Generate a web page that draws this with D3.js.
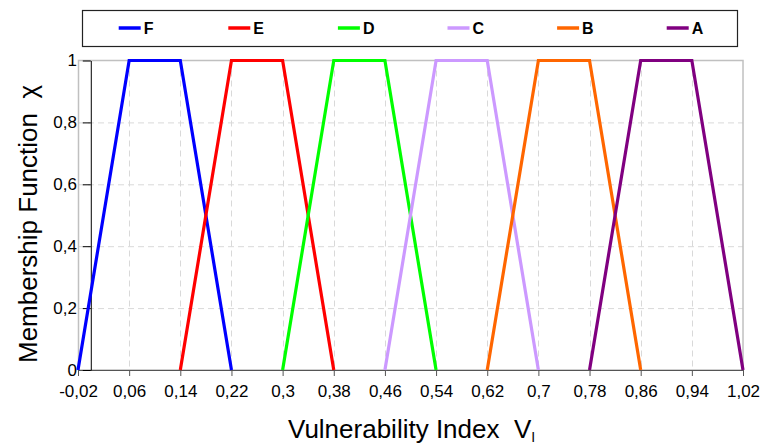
<!DOCTYPE html>
<html>
<head>
<meta charset="utf-8">
<script src="https://cdn.jsdelivr.net/npm/d3@7"></script>
<style>
  body { margin: 0; background: #fff; }
  svg { display: block; font-family: "Liberation Sans", Arial, sans-serif; }
  .title { white-space: pre; }
</style>
</head>
<body>
<div class="plot"></div>
<script>
"use strict";

// classes and their trapezoid corners (x at chi = 0, 1, 1, 0)
const classes = ["F", "E", "D", "C", "B", "A"];
const colors = ["#0000FF", "#FF0000", "#00FF00", "#CC99FF", "#FF6600", "#800080"];
const cornersX = [
    [-0.02, 0.06, 0.14, 0.22],
    [0.14, 0.22, 0.30, 0.38],
    [0.30, 0.38, 0.46, 0.54],
    [0.46, 0.54, 0.62, 0.70],
    [0.62, 0.70, 0.78, 0.86],
    [0.78, 0.86, 0.94, 1.02]
];
const cornersY = [0, 1, 1, 0];
const xTicks = [-0.02, 0.06, 0.14, 0.22, 0.30, 0.38, 0.46, 0.54, 0.62, 0.70, 0.78, 0.86, 0.94, 1.02];
const yTicks = [0, 0.2, 0.4, 0.6, 0.8, 1];

const W = 761, H = 446;
const pLeft = 78, pRight = 743, pTop = 60.5, pBottom = 370;

const fmt = v => String(+v.toFixed(2)).replace(".", ",");

var svg = d3.select(".plot")
    .append("svg")
    .attr("width", W)
    .attr("height", H);

var x = d3.scaleLinear().domain([-0.02, 1.02]).range([pLeft, pRight]);
var y = d3.scaleLinear().domain([0, 1]).range([pBottom, pTop]);

// grid
svg.append("g")
    .selectAll("line")
    .data(yTicks.filter(d => d > 0 && d < 1))
    .enter()
    .append("line")
    .attr("x1", pLeft).attr("x2", pRight)
    .attr("y1", d => y(d) + 0.5).attr("y2", d => y(d) + 0.5)
    .attr("stroke", "#d9d9d9")
    .attr("stroke-dasharray", "6,4");

svg.append("g")
    .selectAll("line")
    .data(xTicks.slice(1, -1))
    .enter()
    .append("line")
    .attr("x1", d => Math.round(x(d)) + 0.5).attr("x2", d => Math.round(x(d)) + 0.5)
    .attr("y1", pTop).attr("y2", pBottom)
    .attr("stroke", "#d9d9d9")
    .attr("stroke-dasharray", "6,4");

// plot area border
svg.append("rect")
    .attr("x", pLeft + 0.5)
    .attr("y", pTop)
    .attr("width", pRight - pLeft - 0.5)
    .attr("height", pBottom - pTop)
    .attr("fill", "none")
    .attr("stroke", "#c0c0c0")
    .attr("stroke-width", 1.5);

// x axis
var xAxis = svg.append("g")
    .attr("transform", `translate(0,${pBottom})`)
    .call(d3.axisBottom(x).tickValues(xTicks).tickFormat(fmt).tickSize(6).tickSizeOuter(0).tickPadding(9));
xAxis.select(".domain").attr("stroke", "#555");
xAxis.selectAll(".tick line").attr("stroke", "#555");
xAxis.selectAll("text").attr("font-size", 17).attr("fill", "#000")
    .attr("font-family", "'Liberation Sans', Arial, sans-serif");

// y axis crosses at V = 0
var yAxis = svg.append("g")
    .attr("transform", `translate(${x(0)},0)`)
    .call(d3.axisLeft(y).tickValues(yTicks).tickFormat(fmt).tickSize(8).tickSizeOuter(0).tickPadding(6));
yAxis.select(".domain").attr("stroke", "#000");
yAxis.selectAll(".tick line").attr("stroke", "#000");
yAxis.selectAll("text")
    .attr("font-size", 17).attr("fill", "#000")
    .attr("font-family", "'Liberation Sans', Arial, sans-serif")
    .attr("x", 77 - x(0));

// membership trapezoids
var line = d3.line().x(d => x(d[0])).y(d => y(d[1]));
svg.append("g")
    .selectAll("path")
    .data(cornersX)
    .enter()
    .append("path")
    .attr("d", d => line(d.map((v, i) => [v, cornersY[i]])))
    .attr("fill", "none")
    .attr("stroke", (d, i) => colors[i])
    .attr("stroke-width", 3.2)
    .attr("stroke-linejoin", "miter");

// legend
svg.append("rect")
    .attr("x", 82.5).attr("y", 10.5)
    .attr("width", 655).attr("height", 36)
    .attr("fill", "#fff")
    .attr("stroke", "#222")
    .attr("stroke-width", 1.2);

var leg = svg.append("g")
    .selectAll("g")
    .data(classes)
    .enter()
    .append("g")
    .attr("transform", (d, i) => `translate(${118.7 + i * 109.6},28)`);
leg.append("line")
    .attr("x1", 0).attr("x2", 22)
    .attr("stroke", (d, i) => colors[i])
    .attr("stroke-width", 3.5);
leg.append("text")
    .attr("x", 25).attr("y", 6)
    .attr("font-size", 16)
    .attr("font-weight", "bold")
    .text(d => d);

// axis titles
svg.append("text")
    .attr("class", "title")
    .attr("transform", "translate(37,363) rotate(-90)")
    .attr("font-size", 26)
    .text("Membership Function  χ");

var xt = svg.append("text")
    .attr("class", "title")
    .attr("x", 288).attr("y", 438)
    .attr("font-size", 26);
xt.append("tspan").text("Vulnerability Index  V");
xt.append("tspan").attr("font-size", 14).attr("dy", 4).text("I");
</script>
</body>
</html>
